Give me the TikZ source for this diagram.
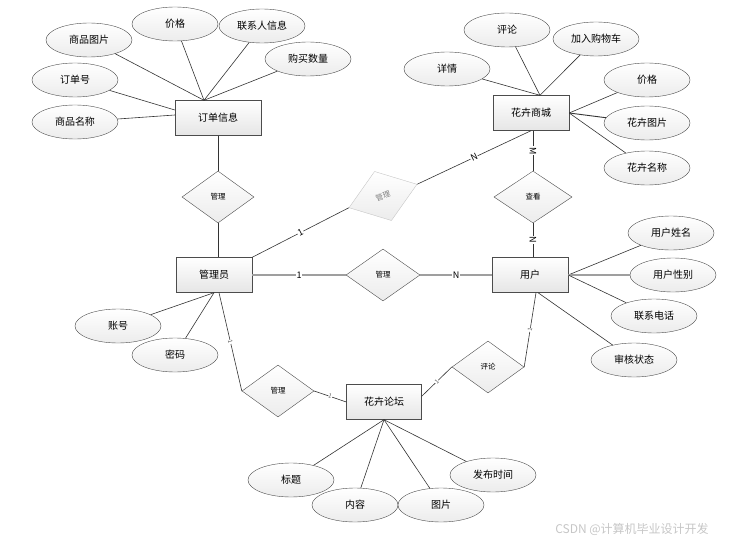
\documentclass[tikz,border=0pt]{standalone}
\usepackage{fontspec}
\setmainfont{Noto Sans CJK SC}
\usetikzlibrary{shapes.geometric}

\begin{document}
\begin{tikzpicture}[x=1pt,y=-1pt,
  entity/.style={draw=gray!60!black,rectangle,top color=white,bottom color=gray!20,minimum width=76pt,minimum height=35pt,inner sep=0pt,font=\fontsize{10}{12}\selectfont},
  attr/.style={draw=gray!60!black,ellipse,top color=white,bottom color=gray!15,minimum width=86pt,minimum height=34pt,inner sep=0pt,font=\fontsize{10}{12}\selectfont},
  rel/.style={draw=gray!60!black,diamond,top color=white,bottom color=gray!15,minimum width=72pt,minimum height=52pt,inner sep=0pt,font=\fontsize{7.5}{9}\selectfont},
  ln/.style={draw=gray!40!black,line width=0.6pt},
  thk/.style={draw=gray!75,line width=1.5pt},
  card/.style={font=\fontsize{9}{10}\selectfont,fill=white,inner sep=0.6pt,sloped},
  tick/.style={font=\fontsize{6}{6}\selectfont,fill=white,inner sep=0.3pt,sloped,text=gray!70!black}]
\useasboundingbox (0,0) rectangle (729,543);

%entities
\node [entity,minimum width=86pt] (order) at(218,118){订单信息};
\node [entity] (mall) at(531,113){花卉商城};
\node [entity] (admin) at(214,275){管理员};
\node [entity] (user) at(530,275){用户};
\node [entity,minimum width=75pt] (forum) at(384,402){花卉论坛};

%relations
\node [rel] (mOrder) at(218,197){管理};
\node [rel,rotate=19,draw=gray!45,text=gray] (mMall) at(383,196){管理};
\node [rel,minimum width=74pt] (mUser) at(383,275){管理};
\node [rel,minimum width=78pt] (view) at(533,197){查看};
\node [rel] (cmt) at(488,367){评论};
\node [rel] (mForum) at(278,391){管理};

%attributes of 订单信息
\node [attr] (oPic) at(89,40){商品图片};
\node [attr] (oPrice) at(175,24){价格};
\node [attr] (oContact) at(262,26){联系人信息};
\node [attr] (oNum) at(308,59){购买数量};
\node [attr] (oNo) at(75,80){订单号};
\node [attr] (oName) at(75,122){商品名称};

%attributes of 花卉商城
\node [attr] (mCmt) at(507,30){评论};
\node [attr] (mCart) at(596,39){加入购物车};
\node [attr] (mDetail) at(447,69){详情};
\node [attr] (mPrice) at(647,80){价格};
\node [attr] (mPic) at(647,123){花卉图片};
\node [attr] (mName) at(647,168){花卉名称};

%attributes of 用户
\node [attr] (uName) at(671,233){用户姓名};
\node [attr] (uSex) at(673,275){用户性别};
\node [attr] (uTel) at(654,316){联系电话};
\node [attr] (uState) at(634,360){审核状态};

%attributes of 管理员
\node [attr] (aAcc) at(118,326){账号};
\node [attr] (aPwd) at(175,355){密码};

%attributes of 花卉论坛
\node [attr] (fTitle) at(291,480){标题};
\node [attr] (fText) at(355,505){内容};
\node [attr] (fPic) at(441,505){图片};
\node [attr] (fTime) at(493,475){发布时间};

\node [text=gray!45,font=\fontsize{12}{14}\selectfont] (mark) at(632,529){CSDN @计算机毕业设计开发};

\draw[ln](oPic) -- ([xshift=-14pt]order.north);
\draw[ln](oPrice) -- ([xshift=-14pt]order.north);
\draw[ln](oContact) -- ([xshift=-14pt]order.north);
\draw[ln](oNum) -- ([xshift=-14pt]order.north);
\draw[ln](oNo) -- ([yshift=8pt]order.west);
\draw[ln](oName) -- ([yshift=3pt]order.west);
\draw[ln](order) -- (mOrder);
\draw[ln](mOrder) -- (mOrder |- admin.north);

\draw[ln](mDetail) -- ([xshift=9pt]mall.north);
\draw[ln](mCmt) -- ([xshift=9pt]mall.north);
\draw[ln](mCart) -- ([xshift=9pt]mall.north);
\draw[ln](mPrice) -- (mall.east);
\draw[ln,line width=0.9pt](mPic) -- (mall.east);
\draw[ln](mName) -- (mall.east);

\draw[ln](admin.north east) -- (mMall.west) node[card,midway]{1};
\draw[ln](mMall.east) -- (mall.south) node[card,midway]{N};
\draw[thk](admin) -- (mUser) node[card,midway]{1};
\draw[thk](mUser) -- (user) node[card,midway]{N};
\draw[ln](view |- mall.south) -- (view) node[card,midway]{M};
\draw[ln](view) -- (view |- user.north) node[card,midway]{N};

\draw[ln](uName) -- (user.east);
\draw[thk](uSex) -- (user.east);
\draw[ln](uTel) -- (user.east);
\draw[ln](uState) -- ([xshift=8pt]user.south);

\draw[ln](aAcc) -- (admin.south);
\draw[ln](aPwd) -- (admin.south);

\draw[ln]([xshift=6pt]user.south) -- (cmt.east) node[tick,midway]{1};
\draw[ln](cmt.west) -- ([yshift=-12pt]forum.north east) node[tick,midway]{1};
\draw[ln]([xshift=5pt]admin.south) -- (mForum.west) node[tick,midway]{1};
\draw[ln](mForum.east) -- (forum.west) node[tick,midway]{1};

\draw[ln](fTitle) -- (forum.south);
\draw[ln](fText) -- (forum.south);
\draw[ln](fPic) -- (forum.south);
\draw[ln](fTime) -- (forum.south);

\end{tikzpicture}
\end{document}
